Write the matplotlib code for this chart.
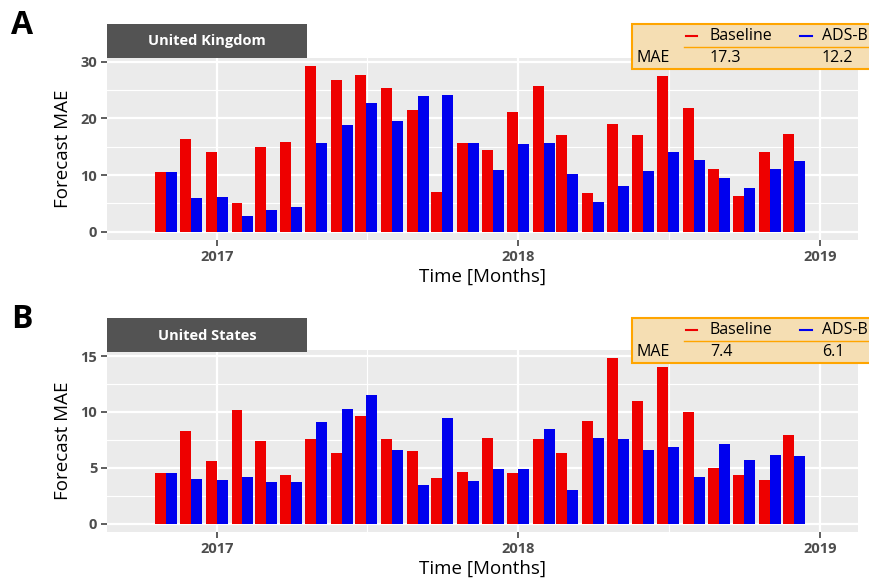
import matplotlib
matplotlib.use("Agg")
import matplotlib.pyplot as plt
import matplotlib.dates as mdates
from matplotlib.patches import Rectangle
import numpy as np
import pandas as pd

plt.rcParams['font.family'] = ['Open Sans', 'DejaVu Sans']

months = ["2016-11", "2016-12", "2017-01", "2017-02", "2017-03", "2017-04", "2017-05",
          "2017-06", "2017-07", "2017-08", "2017-09", "2017-10", "2017-11", "2017-12",
          "2018-01", "2018-02", "2018-03", "2018-04", "2018-05", "2018-06", "2018-07",
          "2018-08", "2018-09", "2018-10", "2018-11", "2018-12"]

uk_baseline = [10.6, 16.3, 14.0, 5.1, 14.9, 15.9, 29.2, 26.7, 27.6, 25.3, 21.4, 7.0, 15.7,
               14.5, 21.1, 25.7, 17.0, 6.9, 19.1, 17.0, 27.5, 21.8, 11.1, 6.3, 14.1, 17.2]
uk_adsb = [10.6, 6.0, 6.2, 2.8, 3.8, 4.4, 15.6, 18.8, 22.7, 19.5, 23.9, 24.1, 15.6,
           10.9, 15.4, 15.6, 10.2, 5.3, 8.1, 10.8, 14.1, 12.7, 9.5, 7.8, 11.1, 12.5]

us_baseline = [4.5, 8.3, 5.6, 10.2, 7.4, 4.35, 7.6, 6.3, 9.6, 7.6, 6.5, 4.1, 4.6,
               7.7, 4.5, 7.6, 6.3, 9.2, 14.8, 11.0, 14.0, 10.0, 5.0, 4.4, 3.9, 7.95]
us_adsb = [4.5, 4.0, 3.9, 4.2, 3.7, 3.7, 9.1, 10.3, 11.55, 6.6, 3.5, 9.5, 3.8,
           4.9, 4.9, 8.5, 3.0, 7.7, 7.6, 6.6, 6.9, 4.2, 7.1, 5.7, 6.15, 6.05]

panels = ["United Kingdom", "United States"]
letters = ["A", "B"]
mae_baseline = ["17.3", "7.4"]
mae_adsb = ["12.2", "6.1"]
series_names = ["Baseline", "ADS-B"]
year_ticks = ["2017", "2018", "2019"]

RED = "#EE0000"
BLUE = "#0000EE"
W, H = 870, 583

fig = plt.figure(figsize=(W / 100, H / 100), dpi=100)

def fx(px):
    return px / W

def fy(py):
    return 1 - py / H

dates = pd.to_datetime(months)
xnum = mdates.date2num(dates)
bw = 13.3

panel_tops = [58, 350]
panel_bots = [240, 532]
ylims = [(-1.46, 30.66), (-0.74, 15.54)]
major_y = [[0, 10, 20, 30], [0, 5, 10, 15]]
minor_y = [[5, 15, 25], [2.5, 7.5, 12.5]]
data = [(uk_baseline, uk_adsb), (us_baseline, us_adsb)]

xlim = (mdates.date2num(pd.Timestamp("2016-08-21")), mdates.date2num(pd.Timestamp("2019-02-16")))
yt = [mdates.date2num(pd.Timestamp(y + "-01-01")) for y in year_ticks]
minor_x = [mdates.date2num(pd.Timestamp(y)) for y in ["2016-07-02", "2017-07-02", "2018-07-02"]]

axes = []
for i in range(2):
    ax = fig.add_axes([fx(107), fy(panel_bots[i]), fx(858 - 107), (panel_bots[i] - panel_tops[i]) / H])
    ax.set_facecolor("#EBEBEB")
    for s in ax.spines.values():
        s.set_visible(False)
    ax.set_xlim(*xlim)
    ax.set_ylim(*ylims[i])
    for v in minor_y[i]:
        ax.axhline(v, color="white", lw=0.8, zorder=0.5)
    for v in major_y[i]:
        ax.axhline(v, color="white", lw=1.6, zorder=0.6)
    for v in minor_x:
        ax.axvline(v, color="white", lw=0.8, zorder=0.5)
    for v in yt:
        ax.axvline(v, color="white", lw=1.6, zorder=0.6)
    b, a = data[i]
    ax.bar(xnum - bw / 2, b, width=bw, color=RED, zorder=2)
    ax.bar(xnum + bw / 2, a, width=bw, color=BLUE, zorder=2)
    ax.set_yticks(major_y[i])
    ax.set_yticklabels([str(v) for v in major_y[i]])
    ax.set_xticks(yt)
    ax.set_xticklabels(year_ticks)
    ax.tick_params(axis="both", colors="#333333", labelcolor="#4D4D4D", length=4, width=1.1,
                   labelsize=10.5, pad=3)
    for lab in ax.get_xticklabels() + ax.get_yticklabels():
        lab.set_fontweight("bold")
    ax.set_ylabel("Forecast MAE", fontsize=13.5, color="black", labelpad=6)
    ax.set_xlabel("Time [Months]", fontsize=13.5, color="black", labelpad=3)
    axes.append(ax)

# overlay in pixel coords
ov = fig.add_axes([0, 0, 1, 1], zorder=10)
ov.set_xlim(0, W)
ov.set_ylim(H, 0)
ov.axis("off")

strip_tops = [24, 318]
legend_offsets = [0, 294]
for i in range(2):
    st = strip_tops[i]
    ov.add_patch(Rectangle((107, st), 200, 34, facecolor="#535353", edgecolor="none"))
    ov.text(207, st + 17.5, panels[i], color="white", fontsize=10.5, fontweight="bold",
            ha="center", va="center")
    ov.text(11, st + 2, letters[i], fontsize=23, fontweight="bold", ha="left", va="center",
            color="black")
    o = legend_offsets[i]
    ov.add_patch(Rectangle((632, 24 + o), 260, 45, facecolor="#F5DEB3", edgecolor="#FFA500",
                           lw=1.5, clip_on=False))
    ov.plot([684, 880], [47.3 + o, 47.3 + o], color="#FFA500", lw=1.0, clip_on=False)
    ov.plot([686, 697], [36 + o, 36 + o], color=RED, lw=1.5)
    ov.plot([800, 812], [36 + o, 36 + o], color=BLUE, lw=1.5)
    ov.text(710, 36 + o, series_names[0], fontsize=11.5, va="center", ha="left")
    ov.text(822, 36 + o, series_names[1], fontsize=11.5, va="center", ha="left")
    ov.text(637, 58.5 + o, "MAE", fontsize=11.5, va="center", ha="left")
    ov.text(710, 58.5 + o, mae_baseline[i], fontsize=11.5, va="center", ha="left")
    ov.text(822, 58.5 + o, mae_adsb[i], fontsize=11.5, va="center", ha="left")

fig.savefig("out.png", dpi=100)
